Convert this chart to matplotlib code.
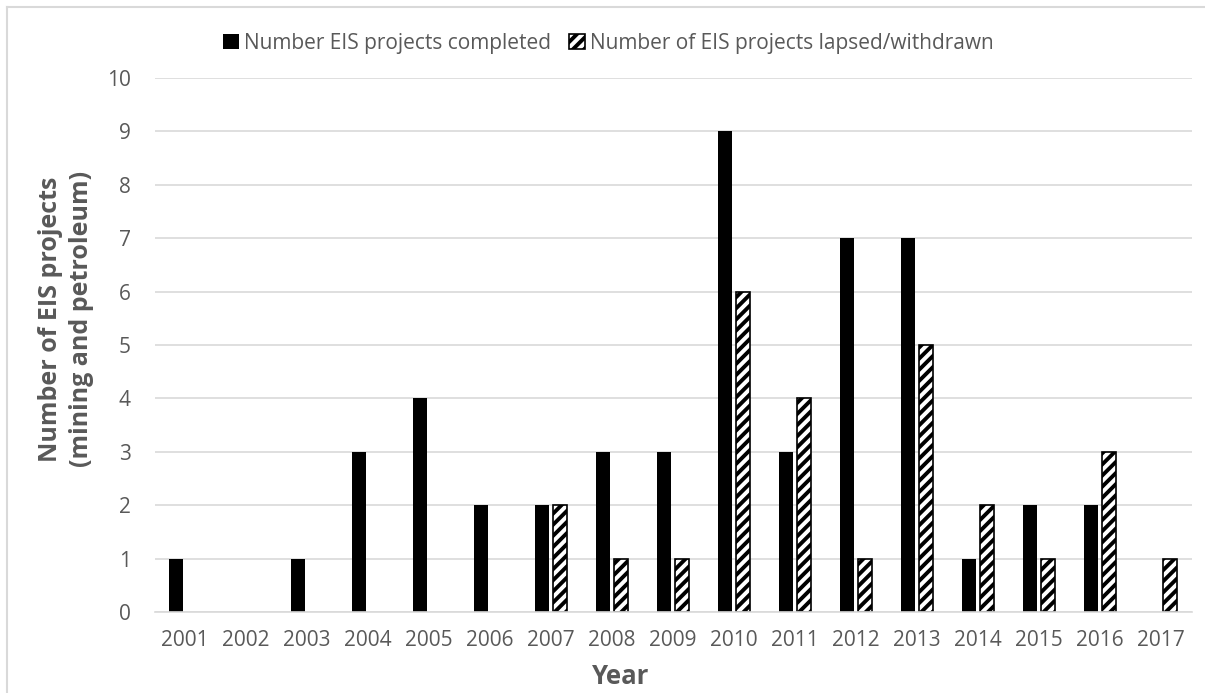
import numpy as np
import matplotlib.pyplot as plt
from matplotlib.lines import Line2D

years = [str(y) for y in range(2001, 2018)]
completed = [1, 0, 1, 3, 4, 2, 2, 3, 3, 9, 3, 7, 7, 1, 2, 2, 0]
lapsed = [0, 0, 0, 0, 0, 0, 2, 1, 1, 6, 4, 1, 5, 2, 1, 3, 1]

plt.rcParams["font.family"] = ["Open Sans", "DejaVu Sans"]
plt.rcParams["hatch.linewidth"] = 2.8
grey = "#595959"
W, H = 1205, 693

fig = plt.figure(figsize=(W / 100, H / 100), dpi=100)
ax = fig.add_axes([154.5 / W, 1 - 612 / H, 1037 / W, 534 / H])

# light frame round the chart (top and left edges show in the source)
fig.lines.append(Line2D([7 / W, 7 / W], [0, 1 - 7 / H], transform=fig.transFigure,
                        color="#d9d9d9", linewidth=1.5))
fig.lines.append(Line2D([7 / W, 1], [1 - 7 / H, 1 - 7 / H], transform=fig.transFigure,
                        color="#d9d9d9", linewidth=1.5))

x = np.arange(len(years))
comp = np.array(completed)
laps = np.array(lapsed)
w = 0.23
# zero values are left out so no flat bar is drawn
ax.bar(x[comp > 0] - 0.148, comp[comp > 0], w, color="black",
       label="Number EIS projects completed")
ax.bar(x[laps > 0] + 0.14, laps[laps > 0], w, color="white", edgecolor="black",
       hatch="///", linewidth=1.2, label="Number of EIS projects lapsed/withdrawn")

ax.set_xlim(-0.5, len(years) - 0.5)
ax.set_ylim(0, 10)
ax.set_yticks(range(0, 11))
ax.set_xticks(x)
ax.set_xticklabels(years)
ax.grid(axis="y", color="#d9d9d9", linewidth=1.2)
ax.set_axisbelow(True)
for s in ["top", "right", "left"]:
    ax.spines[s].set_visible(False)
ax.spines["bottom"].set_color("#d9d9d9")
ax.spines["bottom"].set_linewidth(1.2)
ax.tick_params(axis="both", length=0, labelsize=15, colors=grey)
ax.tick_params(axis="x", pad=13)
ax.tick_params(axis="y", pad=17)

fig.text(621 / W, 1 - 676 / H, "Year", fontsize=18.5, fontweight="bold",
         color=grey, ha="center", va="center")
fig.text(66 / W, 1 - 319 / H, "Number of EIS projects\n(mining and petroleum)",
         fontsize=18, fontweight="bold", color=grey, ha="center", va="center",
         rotation=90, linespacing=1.35)

fig.legend(loc="center", bbox_to_anchor=(0.505, 1 - 43 / H), ncol=2, frameon=False,
           fontsize=15, labelcolor=grey, handlelength=0.75, handleheight=0.75,
           handletextpad=0.25, columnspacing=0.85)

fig.savefig("out.png", dpi=100)
